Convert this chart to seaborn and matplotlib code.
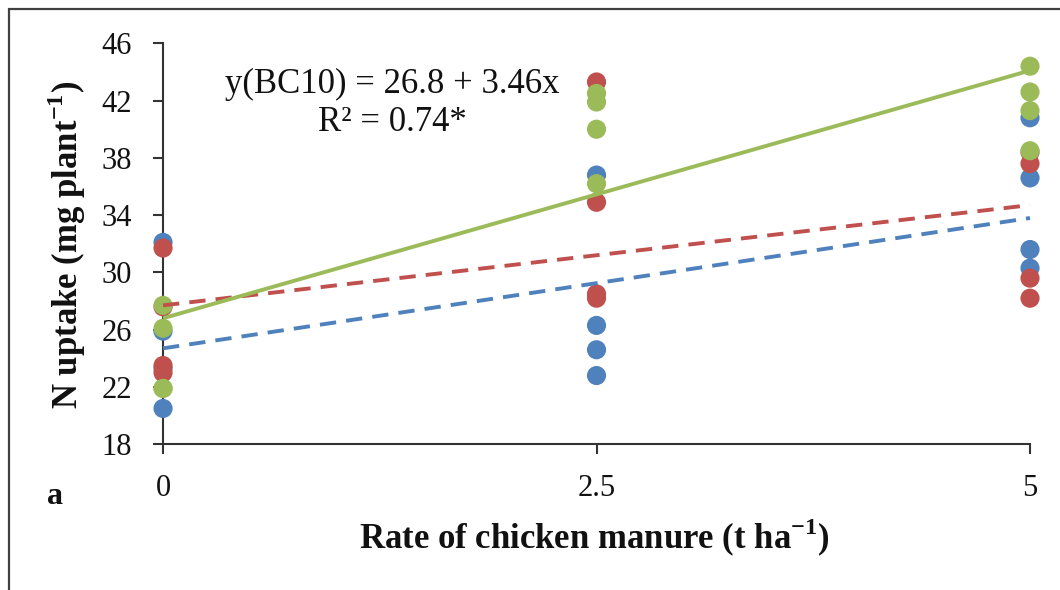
import numpy as np
import pandas as pd
import matplotlib
matplotlib.use("Agg")
import matplotlib.pyplot as plt
from matplotlib.patches import Rectangle
import seaborn as sns

# Chicken manure rates (t/ha)
rates = [0, 2.5, 5]

# N uptake (mg/plant), four replicates per rate
bc0_uptake = [
    [32.1, 25.9, 23.3, 20.5],
    [36.8, 26.3, 24.6, 22.8],
    [40.8, 36.6, 31.6, 30.3],
]
bc5_uptake = [
    [31.7, 27.6, 23.5, 23.0],
    [43.3, 34.9, 28.5, 28.2],
    [38.4, 37.6, 29.6, 28.2],
]
bc10_uptake = [
    [27.7, 26.1, 21.9, 21.9],
    [42.5, 41.9, 40.0, 36.2],
    [44.4, 42.6, 41.3, 38.5],
]

series_names = ["BC0", "BC5", "BC10"]
series_colors = ["#4F81BD", "#C0504D", "#9BBB59"]

# Linear trend coefficients (intercept, slope)
trend_intercepts = [24.7, 27.7, 26.8]
trend_slopes = [1.82, 1.40, 3.46]
trend_styles = ["--", "--", "-"]

rows = []
for name, values in zip(series_names, [bc0_uptake, bc5_uptake, bc10_uptake]):
    for rate, reps in zip(rates, values):
        for v in reps:
            rows.append({"rate": rate, "uptake": v, "series": name})
df = pd.DataFrame(rows)

sns.set_theme(style="white")
plt.rcParams["font.family"] = ["Liberation Serif", "DejaVu Serif"]
plt.rcParams["mathtext.fontset"] = "custom"
plt.rcParams["mathtext.rm"] = "Liberation Serif"
plt.rcParams["mathtext.bf"] = "Liberation Serif:bold"

fig = plt.figure(figsize=(10.6, 5.9), dpi=100)
ax = fig.add_axes([0.1538, 0.2470, 0.9717 - 0.1538, 0.9266 - 0.2470])

sns.scatterplot(
    data=df, x="rate", y="uptake", hue="series",
    hue_order=series_names, palette=series_colors,
    s=190, edgecolor="none", legend=False, ax=ax, clip_on=False, zorder=3,
)

x_line = np.array([rates[0], rates[-1]])
for b0, b1, ls, col in zip(trend_intercepts, trend_slopes, trend_styles, series_colors):
    line = ax.plot(x_line, b0 + b1 * x_line, ls=ls, color=col, lw=2.8,
                   zorder=4, clip_on=False, solid_capstyle="butt")[0]
    if ls == "--":
        line.set_dashes((4.2, 2.6))

ax.set_xlim(0, 5)
ax.set_ylim(18, 46)
ax.set_xticks(rates)
ax.set_xticklabels(["0", "2.5", "5"])
ax.set_yticks(np.arange(18, 47, 4))

for side in ["top", "right"]:
    ax.spines[side].set_visible(False)
for side in ["left", "bottom"]:
    ax.spines[side].set_color("#333333")
    ax.spines[side].set_linewidth(1.5)

ax.tick_params(axis="both", which="major", direction="out", length=7.5,
               width=1.5, color="#333333", labelsize=22, labelcolor="#111111",
               bottom=True, left=True)
ax.tick_params(axis="y", pad=15)
ax.tick_params(axis="x", pad=14)

ax.set_xlabel("Rate of chicken manure (t ha$^{\\mathbf{-1}}$)", fontsize=25,
              fontweight="bold", color="#111111", va="center")
ax.xaxis.set_label_coords(0.498, -0.234)
ax.set_ylabel("N uptake (mg plant$^{\\mathbf{-1}}$)", fontsize=25,
              fontweight="bold", color="#111111", va="center")
ax.yaxis.set_label_coords(-0.111, 0.497)

ax.text(0.264, 0.849, "y(BC10) = 26.8 + 3.46x\nR² = 0.74*", transform=ax.transAxes,
        ha="center", va="center", fontsize=25, color="#111111", linespacing=1.2)

fig.text(55 / 1060, 1 - 497 / 590, "a", fontsize=23, fontweight="bold",
         ha="center", va="center", color="#111111")

fig.patches.append(Rectangle((8.5 / 1060, -0.2), 1.2, 1.2 - 9 / 590,
                             transform=fig.transFigure, fill=False,
                             edgecolor="#404040", linewidth=1.6))

fig.savefig("out.png", dpi=100)
